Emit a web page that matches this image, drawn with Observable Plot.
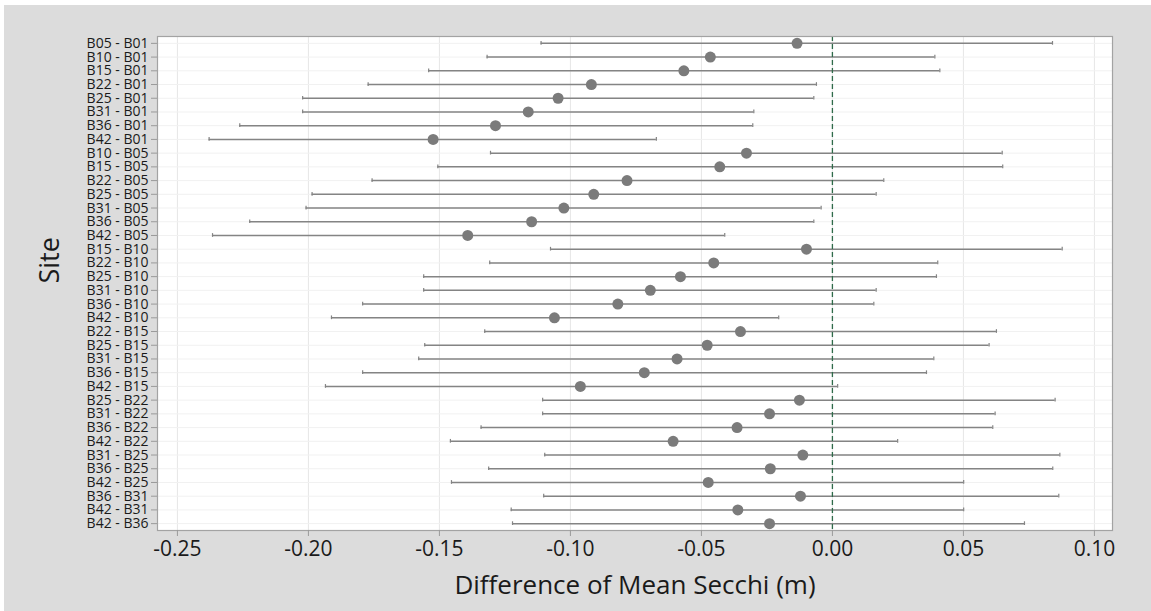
<!DOCTYPE html>
<html>
<head>
<meta charset="utf-8">
<script src="https://cdn.jsdelivr.net/npm/d3@7"></script>
<script src="https://cdn.jsdelivr.net/npm/@observablehq/plot@0.6"></script>
<style>
  html, body { margin: 0; padding: 0; background: #ffffff; }
  #wrap { position: absolute; left: 4px; top: 5px; width: 1147px; height: 606px; background: #dcdcdc; }
</style>
</head>
<body>
<div id="wrap"></div>
<script>
const sites = [
  "B05 - B01","B10 - B01","B15 - B01","B22 - B01","B25 - B01","B31 - B01","B36 - B01","B42 - B01",
  "B10 - B05","B15 - B05","B22 - B05","B25 - B05","B31 - B05","B36 - B05","B42 - B05",
  "B15 - B10","B22 - B10","B25 - B10","B31 - B10","B36 - B10","B42 - B10",
  "B22 - B15","B25 - B15","B31 - B15","B36 - B15","B42 - B15",
  "B25 - B22","B31 - B22","B36 - B22","B42 - B22",
  "B31 - B25","B36 - B25","B42 - B25",
  "B36 - B31","B42 - B31",
  "B42 - B36"
];
const lower = [
  -0.1112,-0.1318,-0.1541,-0.1772,-0.2022,-0.2022,-0.2262,-0.2379,
  -0.1305,-0.1506,-0.1757,-0.1986,-0.2009,-0.2224,-0.2366,
  -0.1076,-0.1308,-0.1560,-0.1560,-0.1793,-0.1912,
  -0.1327,-0.1556,-0.1579,-0.1793,-0.1935,
  -0.1106,-0.1106,-0.1341,-0.1458,
  -0.1098,-0.1312,-0.1454,
  -0.1102,-0.1226,
  -0.1221
];
const center = [
  -0.0135,-0.0466,-0.0567,-0.0920,-0.1047,-0.1161,-0.1286,-0.1524,
  -0.0328,-0.0430,-0.0784,-0.0911,-0.1025,-0.1148,-0.1392,
  -0.0099,-0.0453,-0.0580,-0.0695,-0.0819,-0.1061,
  -0.0351,-0.0478,-0.0593,-0.0718,-0.0962,
  -0.0126,-0.0240,-0.0364,-0.0608,
  -0.0113,-0.0237,-0.0474,
  -0.0122,-0.0361,
  -0.0240
];
const upper = [
  0.0840,0.0391,0.0410,-0.0061,-0.0071,-0.0300,-0.0304,-0.0672,
  0.0648,0.0650,0.0196,0.0167,-0.0043,-0.0071,-0.0411,
  0.0877,0.0402,0.0397,0.0167,0.0158,-0.0205,
  0.0626,0.0598,0.0387,0.0359,0.0020,
  0.0850,0.0621,0.0612,0.0249,
  0.0868,0.0841,0.0501,
  0.0864,0.0501,
  0.0733
];
const xTicks = [-0.25,-0.20,-0.15,-0.10,-0.05,0.00,0.05,0.10];
const xLabel = "Difference of Mean Secchi (m)";
const yLabel = "Site";

const data = sites.map((s, i) => ({site: s, lo: lower[i], mid: center[i], hi: upper[i]}));

const chart = Plot.plot({
  width: 1147,
  height: 606,
  marginLeft: 153,
  marginRight: 39,
  marginTop: 31,
  marginBottom: 81,
  style: {background: "transparent", fontFamily: "'Open Sans', sans-serif", color: "#1a1a1a"},
  x: {domain: [-0.2576, 0.1069]},
  y: {type: "band", domain: sites, padding: 0, round: false},
  marks: [
    Plot.frame({fill: "white", stroke: "none"}),
    Plot.gridX(xTicks, {stroke: "#e6e6e6", strokeOpacity: 1}),
    Plot.gridY(sites, {stroke: "#f1f1f1", strokeOpacity: 1}),
    Plot.ruleY(data, {y: "site", x1: "lo", x2: "hi", stroke: "#848484", strokeWidth: 1.5}),
    Plot.tickX(data, {x: "lo", y: "site", insetTop: 5, insetBottom: 5, stroke: "#848484", strokeWidth: 1.2}),
    Plot.tickX(data, {x: "hi", y: "site", insetTop: 5, insetBottom: 5, stroke: "#848484", strokeWidth: 1.2}),
    Plot.ruleX([0], {stroke: "#2f6b4a", strokeWidth: 1.3, strokeDasharray: "5,3"}),
    Plot.dot(data, {x: "mid", y: "site", r: 5.5, fill: "#7b7b7b", stroke: "none"}),
    Plot.frame({stroke: "#a3a3a3", strokeWidth: 1.2}),
    Plot.axisX(xTicks, {tickSize: 6, tickPadding: 5, fontSize: 21, stroke: "#9a9a9a", fill: "#1a1a1a", tickFormat: d => d.toFixed(2), label: null}),
    Plot.axisY({tickSize: 6, tickPadding: 3, fontSize: 14, stroke: "#9a9a9a", fill: "#1a1a1a", label: null}),
    Plot.text([xLabel], {frameAnchor: "bottom", dy: 63, fontSize: 26, fill: "#1a1a1a"}),
    Plot.text([yLabel], {frameAnchor: "left", dx: -107, rotate: -90, fontSize: 27, fill: "#1a1a1a"})
  ]
});
document.getElementById("wrap").appendChild(chart);
</script>
</body>
</html>
